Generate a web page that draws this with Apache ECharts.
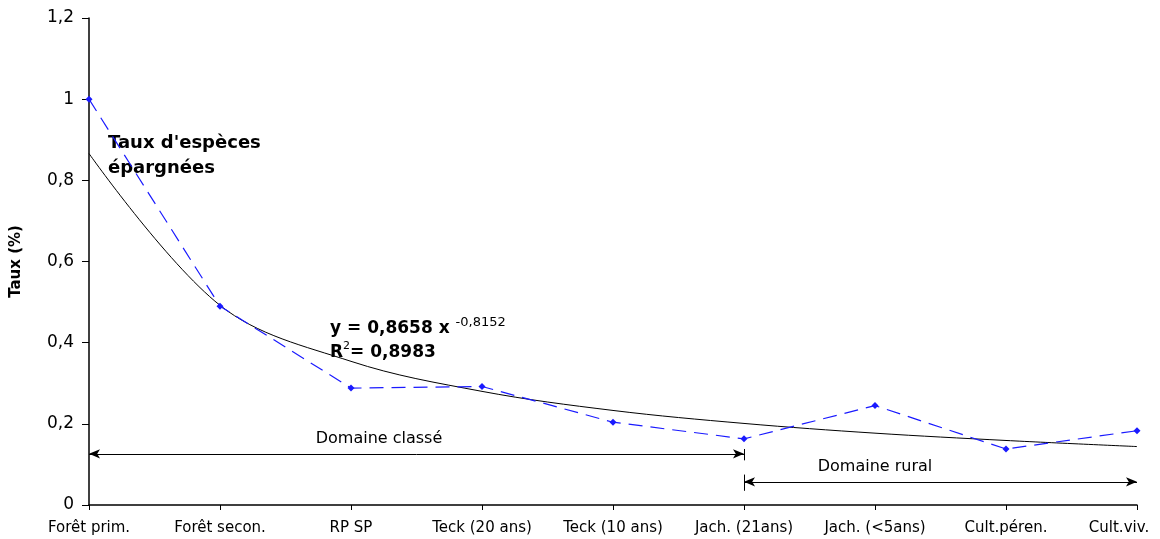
<!DOCTYPE html>
<html>
<head>
<meta charset="utf-8">
<script src="https://cdn.jsdelivr.net/npm/echarts@6/dist/echarts.min.js"></script>
<style>
  html, body { margin: 0; padding: 0; background: #fff; }
  #chart { width: 1160px; height: 539px; }
</style>
</head>
<body>
<div id="chart"></div>
<script>
const categories = ['Forêt prim.', 'Forêt secon.', 'RP SP', 'Teck (20 ans)', 'Teck (10 ans)', 'Jach. (21ans)', 'Jach. (<5ans)', 'Cult.péren.', 'Cult.viv.'];
const taux = [1.0, 0.49, 0.288, 0.292, 0.204, 0.163, 0.245, 0.138, 0.183];
const tendance = [0.866, 0.492, 0.354, 0.280, 0.233, 0.201, 0.177, 0.159, 0.144];
const yTicks = { min: 0, max: 1.2, interval: 0.2 };

const font = '"DejaVu Sans", Verdana, sans-serif';

const element = document.getElementById('chart');
const chart = echarts.init(element);

chart.setOption({
  animation: false,
  backgroundColor: '#fff',
  textStyle: { fontFamily: font },
  grid: { left: 89, right: 23, top: 18, bottom: 34, outerBoundsMode: 'none', containLabel: false },
  xAxis: {
    type: 'category',
    data: categories,
    boundaryGap: false,
    axisLine: { lineStyle: { color: '#000', width: 1.5 } },
    axisTick: { alignWithLabel: true, interval: 0, length: 5, lineStyle: { color: '#000' } },
    axisLabel: {
      interval: 0,
      hideOverlap: false,
      color: '#000', fontSize: 15, margin: 16, fontFamily: font,
      formatter: (v, i) => i === categories.length - 1 ? '{last|' + v + '}' : v,
      rich: { last: { fontSize: 15, fontFamily: font, color: '#000', padding: [0, 36, 4, 0] } }
    },
    splitLine: { show: false }
  },
  yAxis: {
    type: 'value',
    ...yTicks,
    name: 'Taux (%)',
    nameLocation: 'middle',
    nameGap: 65,
    nameRotate: 90,
    nameTextStyle: { color: '#000', fontSize: 15, fontWeight: 'bold', fontFamily: font },
    axisLine: { show: true, lineStyle: { color: '#000', width: 1.5 } },
    axisTick: { show: true, length: 7, lineStyle: { color: '#000' } },
    axisLabel: {
      color: '#000', fontSize: 17, margin: 15, fontFamily: font,
      formatter: (v) => String(Math.round(v * 10) / 10).replace('.', ',')
    },
    splitLine: { show: false }
  },
  series: [
    {
      name: 'Taux',
      type: 'line',
      data: taux,
      symbol: 'diamond',
      symbolSize: 7,
      itemStyle: { color: '#1a1aff' },
      lineStyle: { color: '#1a1aff', width: 1.2, type: [14, 8] },
      z: 3,
      markPoint: {
        silent: true,
        symbol: 'circle',
        symbolSize: 0,
        label: {
          show: true,
          position: 'top',
          color: '#000',
          fontSize: 16,
          fontFamily: font,
          formatter: '{b}'
        },
        data: [
          { name: 'Domaine classé', coord: [2, 0.126], label: { offset: [28, -2] } },
          { name: 'Domaine rural', coord: [6, 0.057], label: { offset: [0, -2] } }
        ]
      }
    },
    {
      name: 'Tendance',
      type: 'line',
      data: tendance,
      smooth: 0.35,
      symbol: 'none',
      lineStyle: { color: '#000', width: 1 },
      z: 2,
      markLine: {
        silent: true,
        symbol: ['arrow', 'arrow'],
        symbolSize: [7, 11],
        lineStyle: { color: '#000', width: 1, type: 'solid' },
        label: { show: false },
        data: [
          [{ coord: [0, 0.126] }, { coord: [5, 0.126] }],
          [{ coord: [5, 0.057] }, { coord: [8, 0.057] }],
          [{ coord: [5, 0.110], symbol: 'none' }, { coord: [5, 0.138], symbol: 'none' }],
          [{ coord: [5, 0.035], symbol: 'none' }, { coord: [5, 0.075], symbol: 'none' }]
        ]
      }
    }
  ],
  graphic: [
    {
      type: 'text',
      left: 108,
      top: 131,
      style: {
        text: "Taux d'espèces\népargnées",
        fill: '#000',
        font: 'bold 18px ' + font,
        lineHeight: 25
      }
    },
    {
      type: 'text',
      left: 330,
      top: 316,
      style: {
        text: '{b|y = 0,8658 x }{s|-0,8152}\n{b|R}{s2|2}{b|= 0,8983}',
        fill: '#000',
        rich: {
          b: { font: 'bold 17px ' + font, fill: '#000', lineHeight: 23 },
          s: { font: '13px ' + font, fill: '#000', verticalAlign: 'top', padding: [0, 0, 12, 0] },
          s2: { font: '11px ' + font, fill: '#000', verticalAlign: 'top', padding: [0, 0, 10, 0] }
        }
      }
    }
  ]
});
</script>
</body>
</html>
